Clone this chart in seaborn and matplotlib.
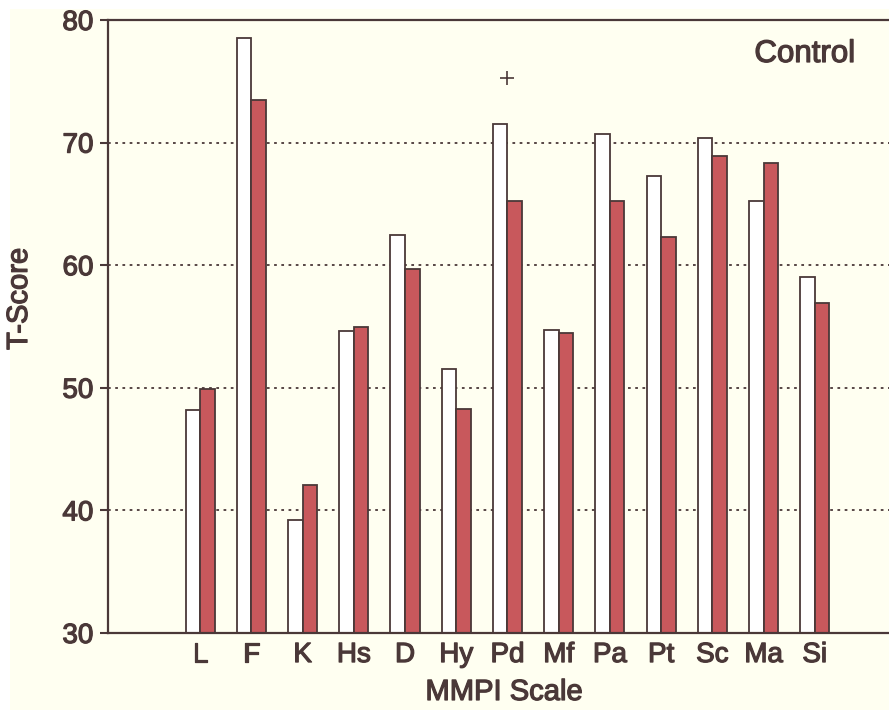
import matplotlib
matplotlib.use("Agg")
import matplotlib.pyplot as plt
import matplotlib.patheffects as pe
from matplotlib.patches import Rectangle
import seaborn as sns
import pandas as pd

# ---- data ----
scales = ["L", "F", "K", "Hs", "D", "Hy", "Pd", "Mf", "Pa", "Pt", "Sc", "Ma", "Si"]
group_a = [48.2, 78.5, 39.2, 54.6, 62.5, 51.5, 71.5, 54.7, 70.7, 67.3, 70.4, 65.2, 59.0]
group_b = [49.9, 73.5, 42.1, 55.0, 59.7, 48.3, 65.2, 54.5, 65.2, 62.3, 68.9, 68.3, 56.9]
series_names = ["A", "B"]
plus_scale = "Pd"
plus_value = 75.3
panel_title = "Control"
y_ticks = [30, 40, 50, 60, 70, 80]

df = pd.DataFrame({
    "scale": scales * 2,
    "score": group_a + group_b,
    "group": [series_names[0]] * len(scales) + [series_names[1]] * len(scales),
})

ink = "#4a3838"
cream = "#fffff1"
red = "#c8585c"

sns.set_theme(style="white")
plt.rcParams["font.family"] = ["Liberation Sans", "DejaVu Sans"]

fig = plt.figure(figsize=(8.89, 7.10), dpi=100, facecolor="white")
fig.patches.append(Rectangle((10 / 889, 0), 1, 1 - 9 / 710, transform=fig.transFigure,
                             facecolor=cream, edgecolor="none", zorder=-10))
ax = fig.add_axes([108 / 889, 77 / 710, 1 - 108 / 889, 613 / 710])
ax.set_facecolor(cream)

for g in [40, 50, 60, 70]:
    ax.axhline(g, color=ink, lw=1.3, ls=(0, (1.5, 2.5)), zorder=0)

sns.barplot(data=df, x="scale", y="score", hue="group", order=scales,
            hue_order=series_names, palette=["white", red], width=0.57,
            saturation=1, edgecolor=ink, linewidth=1.3, ax=ax, zorder=2,
            legend=False, errorbar=None)

ax.plot([scales.index(plus_scale)], [plus_value], marker="+", markersize=10,
        mew=1.2, color=ink, ls="none", zorder=3)

ax.set_xlim(-1.8, 13.45)
ax.set_ylim(30, 80)
ax.set_yticks(y_ticks)
ax.set_yticklabels([str(t) for t in y_ticks])

ax.tick_params(axis="x", which="major", length=0, pad=6.5, labelsize=20, labelcolor=ink)
ax.set_xticks([i + 0.5 for i in range(len(scales) - 1)], minor=True)
ax.tick_params(axis="x", which="minor", length=6, width=1.5, color=ink, direction="out")
ax.tick_params(axis="y", length=6, width=1.5, color=ink, direction="out",
               pad=4.5, labelsize=20, labelcolor=ink, left=True)

for side in ["left", "bottom", "top"]:
    ax.spines[side].set_color(ink)
    ax.spines[side].set_linewidth(1.6)
ax.spines["right"].set_visible(False)

ax.set_xlabel("MMPI Scale", fontsize=21, color=ink)
ax.xaxis.set_label_coords(0.507, -0.0734)
ax.set_ylabel("T-Score", fontsize=21, color=ink)
ax.yaxis.set_label_coords(-0.096, 0.545)

title = ax.text(0.9565, 0.9315, panel_title, transform=ax.transAxes, ha="right",
                va="baseline", fontsize=22.5, color=ink)

stroke = [pe.withStroke(linewidth=0.9, foreground=ink)]
for t in ax.get_xticklabels() + ax.get_yticklabels() + [ax.xaxis.label, ax.yaxis.label, title]:
    t.set_path_effects(stroke)

fig.savefig("out.png", dpi=100, facecolor=fig.get_facecolor())
